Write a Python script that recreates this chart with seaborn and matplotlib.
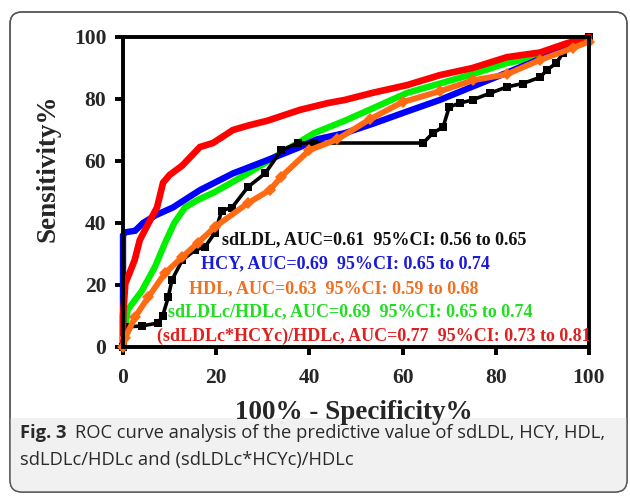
import numpy as np
import pandas as pd
import matplotlib
matplotlib.use("Agg")
import matplotlib.pyplot as plt
import seaborn as sns
from matplotlib.patches import FancyBboxPatch, Rectangle

# ---------------- data ----------------
ratio_x = [0, 0, 0.5, 2.5, 3.6, 5.5, 7.3, 8.6, 10, 12.7, 16.5, 19.3, 23.6, 27, 31, 38, 44, 47.6,
           53.6, 61, 68, 75, 82.4, 89.5, 95.3, 100]
ratio_y = [0, 10, 20.5, 28, 34.5, 40, 45, 53, 55.5, 58.5, 64.5, 65.8, 70, 71.5, 73, 76.5, 78.7, 79.7,
           82, 84.5, 87.7, 90, 93.5, 95, 98, 100]

hcy_x = [0, 0, 0.5, 2.6, 4.3, 7, 10.7, 16.5, 23.6, 31, 38, 41.6, 47.6, 53.6, 61, 68, 75, 82.4, 88.8, 94, 100]
hcy_y = [0, 36, 37, 37.5, 40, 42.5, 45, 50.6, 56, 60.3, 64.5, 67, 69, 72, 76, 79.7, 84, 88.5, 92.5, 96, 100]

sdhdl_x = [0, 1, 4, 6.9, 9, 11, 13.3, 16, 19.7, 26.8, 34, 41, 47.6, 53.6, 61, 68, 75, 82.4, 88.8, 94, 100]
sdhdl_y = [0, 12, 18, 26, 33.5, 40, 45, 47.4, 50, 56, 62.6, 69, 73, 77, 82, 85, 88, 91.6, 93.5, 96, 100]

hdl_x = [0, 0.5, 2.6, 5.4, 9, 12.7, 16, 19.7, 26.8, 31.5, 34, 40, 46, 53, 60, 68, 75, 82.4, 89.5, 96.6, 100]
hdl_y = [0, 3, 9.7, 16, 23.8, 29, 33.5, 38.7, 46.4, 50.6, 55, 63.5, 67, 73.5, 79, 82.5, 86, 88, 92.6, 96.5, 98.5]

sdldl_x = [0, 0.5, 1, 4, 7.5, 8.5, 9.7, 10.5, 12.7, 15.5, 17.6, 19.7, 21.2, 23.4, 26.8, 30.5, 34, 37.6, 41,
           64.4, 66.5, 68.7, 70, 72.3, 75, 78.8, 82.4, 85.8, 89.5, 91, 93, 94.4, 100]
sdldl_y = [0, 5, 6.5, 6.8, 7.7, 10, 16, 21.6, 28, 31.3, 32.3, 36.8, 44, 45, 51.6, 56, 63.5, 65.8, 65.8,
           65.8, 69, 71, 77.4, 78.7, 79.7, 81.9, 83.9, 85, 87, 89.4, 91.6, 94.8, 100]

labels = [
    "sdLDL, AUC=0.61  95%CI: 0.56 to 0.65",
    "HCY, AUC=0.69  95%CI: 0.65 to 0.74",
    "HDL, AUC=0.63  95%CI: 0.59 to 0.68",
    "sdLDLc/HDLc, AUC=0.69  95%CI: 0.65 to 0.74",
    "(sdLDLc*HCYc)/HDLc, AUC=0.77  95%CI: 0.73 to 0.81",
]
ticks = [0, 20, 40, 60, 80, 100]

# ---------------- style ----------------
sns.set_theme(style="ticks")
plt.rcParams['font.family'] = ['Liberation Serif', 'DejaVu Serif']
plt.rcParams['font.weight'] = 'bold'

W, H = 630, 496
fig = plt.figure(figsize=(W / 100, H / 100), dpi=100)
fig.patch.set_facecolor('white')

# outer rounded frame + grey caption band (pixel coordinates)
box = FancyBboxPatch((10, 4), 617, 480, boxstyle="round,pad=0,rounding_size=12",
                     transform=None, facecolor='white', edgecolor='#555555', linewidth=1.0,
                     zorder=-3)
fig.patches.append(box)
band = Rectangle((10, 4), 617, 74, transform=None, facecolor='#f1f1f1', edgecolor='none', zorder=-2)
band.set_clip_path(box)
fig.patches.append(band)
box2 = FancyBboxPatch((10, 4), 617, 480, boxstyle="round,pad=0,rounding_size=12",
                      transform=None, facecolor='none', edgecolor='#555555', linewidth=1.0,
                      zorder=-1)
fig.patches.append(box2)

ax = fig.add_axes([123 / W, 1 - 347 / H, 466 / W, 310 / H])
ax.set_zorder(5)
ax.set_facecolor('none')

series = [
    (sdhdl_x, sdhdl_y, '#00f000', dict(linewidth=4.6)),
    (hcy_x, hcy_y, '#0000ff', dict(linewidth=4.6)),
    (sdldl_x, sdldl_y, '#000000', dict(linewidth=2.6, marker='s', markersize=5.5, markeredgewidth=0)),
    (ratio_x, ratio_y, '#ff0000', dict(linewidth=4.8)),
    (hdl_x, hdl_y, '#ff6a13', dict(linewidth=4.2, marker='D', markersize=6.5, markeredgewidth=0)),
]
for xs, ys, col, kw in series:
    df = pd.DataFrame({'x': xs, 'y': ys})
    sns.lineplot(data=df, x='x', y='y', sort=False, estimator=None, color=col, ax=ax,
                 clip_on=False, solid_joinstyle='miter', **kw)

ax.set_xlim(0, 100)
ax.set_ylim(0, 100)
ax.set_xticks(ticks)
ax.set_yticks(ticks)
ax.set_xticklabels([str(t) for t in ticks])
ax.set_yticklabels([str(t) for t in ticks])
for s in ax.spines.values():
    s.set_visible(True)
    s.set_linewidth(2.8)
    s.set_color('black')
    s.set_zorder(10)
ax.tick_params(axis='both', direction='out', length=6, width=2.8, labelsize=15.5, color='black')
ax.tick_params(axis='x', pad=9)
ax.tick_params(axis='y', pad=6)
for lbl in ax.get_xticklabels() + ax.get_yticklabels():
    lbl.set_fontweight('bold')

ax.set_xlabel("100% - Specificity%", fontsize=19.5, fontweight='bold')
ax.set_ylabel("Sensitivity%", fontsize=19.5, fontweight='bold')
ax.xaxis.set_label_coords(0.496, -0.172)
ax.yaxis.set_label_coords(-0.135, 0.577)

# annotation lines
txt_cols = ['#111111', '#1a1ad8', '#f07020', '#22dd22', '#e0201e']
txt_x = [21.2, 16.7, 14.2, 9.6, 7.3]
txt_y = [34.5, 26.8, 18.7, 11.3, 3.5]
for s, c, tx, ty in zip(labels, txt_cols, txt_x, txt_y):
    ax.text(tx, ty, s, color=c, fontsize=13, fontweight='bold', va='center', ha='left',
            zorder=20, clip_on=True)

# caption
cap_font = ['Open Sans', 'DejaVu Sans']
renderer = fig.canvas.get_renderer()
size = 10.5
t1 = fig.text(20 / W, 1 - 433 / H, "Fig. 3", fontsize=size, fontweight='bold', family=cap_font,
              va='center', ha='left', color='#2a2a2a')
e1 = t1.get_window_extent(renderer)
t2 = fig.text((e1.x1 + 7) / W, 1 - 433 / H,
              "ROC curve analysis of the predictive value of sdLDL, HCY, HDL,",
              fontsize=size, fontweight='normal', family=cap_font, va='center', ha='left',
              color='#2a2a2a')
e2 = t2.get_window_extent(renderer)
scale = (607 - 20) / (e2.x1 - 20)
size2 = size * scale
t1.set_fontsize(size2)
e1 = t1.get_window_extent(renderer)
t2.set_fontsize(size2)
t2.set_x((e1.x1 + 7 * scale) / W)
fig.text(20 / W, 1 - 460 / H, "sdLDLc/HDLc and (sdLDLc*HCYc)/HDLc", fontsize=size2,
         fontweight='normal', family=cap_font, va='center', ha='left', color='#2a2a2a')

fig.savefig("out.png", dpi=100, facecolor='white')
